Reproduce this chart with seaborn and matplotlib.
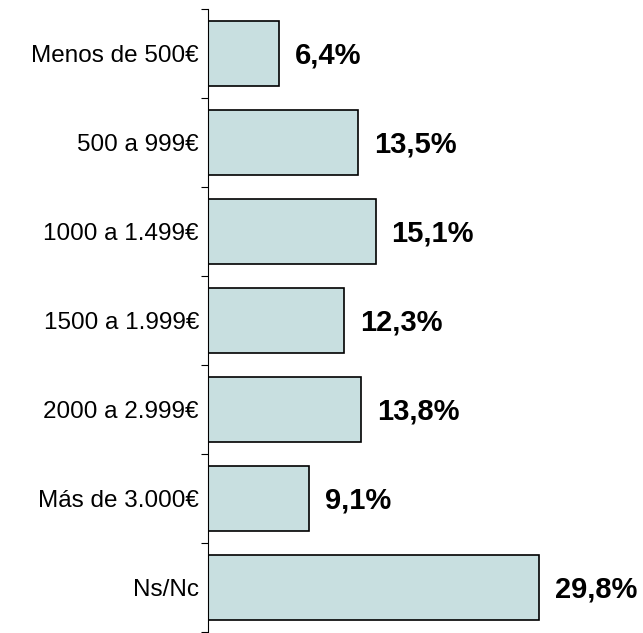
import matplotlib
matplotlib.use("Agg")
import matplotlib.pyplot as plt
import seaborn as sns
import pandas as pd
import numpy as np

categories = ["Menos de 500€", "500 a 999€", "1000 a 1.499€", "1500 a 1.999€",
              "2000 a 2.999€", "Más de 3.000€", "Ns/Nc"]
values = [6.4, 13.5, 15.1, 12.3, 13.8, 9.1, 29.8]
labels = ["6,4%", "13,5%", "15,1%", "12,3%", "13,8%", "9,1%", "29,8%"]

sns.set_style("white")
plt.rcParams['font.family'] = ['Liberation Sans', 'DejaVu Sans']

df = pd.DataFrame({"cat": categories, "val": values})

fig = plt.figure(figsize=(6.43, 6.33), dpi=100)
ax = fig.add_axes([0.3235, 0.0016, 0.64, 0.9842])
sns.barplot(data=df, y="cat", x="val", orient="h", color="#C8DFE0",
            edgecolor="black", linewidth=1.2, width=0.73, saturation=1, ax=ax)

ax.set_xlim(0, 37.1)
ax.set_ylim(len(categories) - 0.5, -0.5)
ax.set_xlabel("")
ax.set_ylabel("")
ax.set_xticks([])
for s in ["top", "right", "bottom"]:
    ax.spines[s].set_visible(False)
ax.spines["left"].set_color("black")
ax.spines["left"].set_linewidth(0.8)

ax.tick_params(axis="y", which="major", left=True, length=0, pad=6.5, labelsize=17.5, labelcolor="black")
ax.set_yticks(np.arange(-0.5, len(categories), 1.0), minor=True)
ax.tick_params(axis="y", which="minor", left=True, length=5, width=0.8, color="black", direction="out")

for i, (v, t) in enumerate(zip(values, labels)):
    ax.annotate(t, xy=(v, i), xytext=(11.5, -1.5), textcoords="offset points",
                ha="left", va="center", fontsize=21, fontweight="bold", color="black")

fig.savefig("out.png", dpi=100)
